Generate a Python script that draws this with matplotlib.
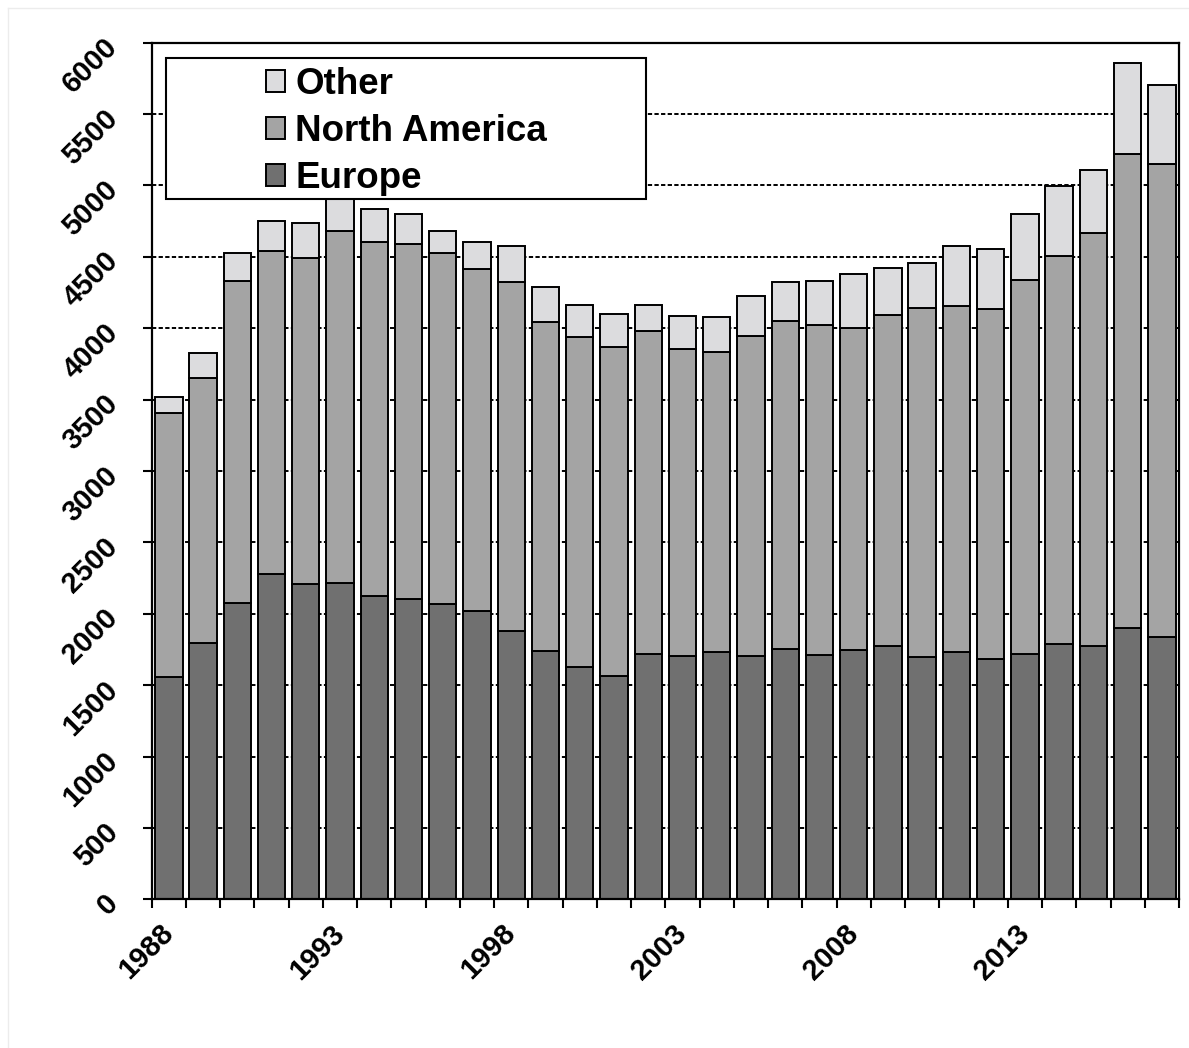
import matplotlib
matplotlib.use("Agg")
import matplotlib.pyplot as plt
from matplotlib.patches import Rectangle
from matplotlib.lines import Line2D
import numpy as np

years = list(range(1988, 2018))
europe = [1554, 1794, 2073, 2276, 2210, 2217, 2124, 2103, 2070, 2021,
          1881, 1740, 1628, 1561, 1717, 1701, 1734, 1703, 1752, 1713,
          1748, 1771, 1694, 1731, 1680, 1717, 1785, 1776, 1899, 1834]
north_america = [1855, 1860, 2259, 2266, 2285, 2465, 2479, 2485, 2460, 2397,
                 2446, 2304, 2313, 2310, 2266, 2154, 2102, 2243, 2299, 2310,
                 2252, 2320, 2451, 2423, 2458, 2619, 2720, 2890, 3318, 3318]
other = [112, 171, 194, 210, 241, 250, 231, 213, 150, 187,
         248, 243, 225, 229, 180, 234, 241, 278, 276, 311,
         381, 334, 311, 423, 418, 463, 488, 444, 643, 554]
ytick_values = list(range(0, 6001, 500))
xtick_labels = ["1988", "1993", "1998", "2003", "2008", "2013"]

plt.rcParams['font.family'] = ['Liberation Sans', 'DejaVu Sans']
plt.rcParams['font.weight'] = 'bold'

W, H = 1189, 1048
fig = plt.figure(figsize=(W / 100, H / 100), dpi=100)
ax = fig.add_axes([151.7 / W, 1 - 899.3 / H, (1179 - 151.7) / W, (899.3 - 42.7) / H])

x = np.arange(len(years))
e = np.array(europe)
na = np.array(north_america)
ot = np.array(other)
bw = 0.8
c_eu, c_na, c_ot = '#707070', '#a4a4a4', '#dcdcde'
b1 = ax.bar(x, e, bw, color=c_eu, edgecolor='black', linewidth=1.4, label='Europe', zorder=2)
b2 = ax.bar(x, na, bw, bottom=e, color=c_na, edgecolor='black', linewidth=1.4, label='North America', zorder=2)
b3 = ax.bar(x, ot, bw, bottom=e + na, color=c_ot, edgecolor='black', linewidth=1.4, label='Other', zorder=2)

ax.set_xlim(-0.5, len(years) - 0.5)
ax.set_ylim(0, 6000)

# grid
ax.set_yticks(ytick_values)
ax.yaxis.grid(True, linestyle=(0, (2.2, 1.2)), color='black', linewidth=1.4)
ax.set_axisbelow(True)

for s in ax.spines.values():
    s.set_linewidth(1.6)
    s.set_color('black')

ax.set_yticklabels([str(v) for v in ytick_values], rotation=45, ha='right', va='center',
                   rotation_mode='anchor', fontsize=21, fontweight='bold')
ax.tick_params(axis='y', direction='out', length=6.5, width=1.5, pad=21)

# x: major ticks at labeled centers (no mark), minor ticks at boundaries
label_pos = [years.index(int(t)) for t in xtick_labels]
ax.set_xticks(label_pos)
ax.set_xticklabels(xtick_labels, rotation=45, ha='right', va='center',
                   rotation_mode='anchor', fontsize=21, fontweight='bold')
ax.set_xticks(np.arange(-0.5, len(years), 1.0), minor=True)
ax.tick_params(axis='x', which='major', length=0, pad=21.5)
ax.tick_params(axis='x', which='minor', direction='out', length=6.5, width=1.5)

# legend box
rect = Rectangle((165.7 / W, 1 - 199.3 / H), (645.7 - 165.7) / W, (199.3 - 58.3) / H,
                 transform=fig.transFigure, facecolor='white', edgecolor='black',
                 linewidth=1.5, zorder=4)
fig.patches.append(rect)
leg = fig.legend(handles=[b3, b2, b1], labels=['Other', 'North America', 'Europe'],
                 loc='center', bbox_to_anchor=(406.5 / W, 1 - 131.5 / H),
                 bbox_transform=fig.transFigure, frameon=False, borderpad=0,
                 prop={'family': 'Liberation Sans', 'weight': 'bold', 'size': 26.5},
                 handlelength=0.53, handleheight=0.53, handletextpad=0.27,
                 labelspacing=0.33)
leg.set_zorder(5)

# faint outer chart border
fig.add_artist(Line2D([8 / W, 8 / W], [0, 1 - 8 / H], transform=fig.transFigure, color='#ececec', lw=1))
fig.add_artist(Line2D([8 / W, 1], [1 - 8 / H, 1 - 8 / H], transform=fig.transFigure, color='#ececec', lw=1))

fig.savefig('out.png', dpi=100)
